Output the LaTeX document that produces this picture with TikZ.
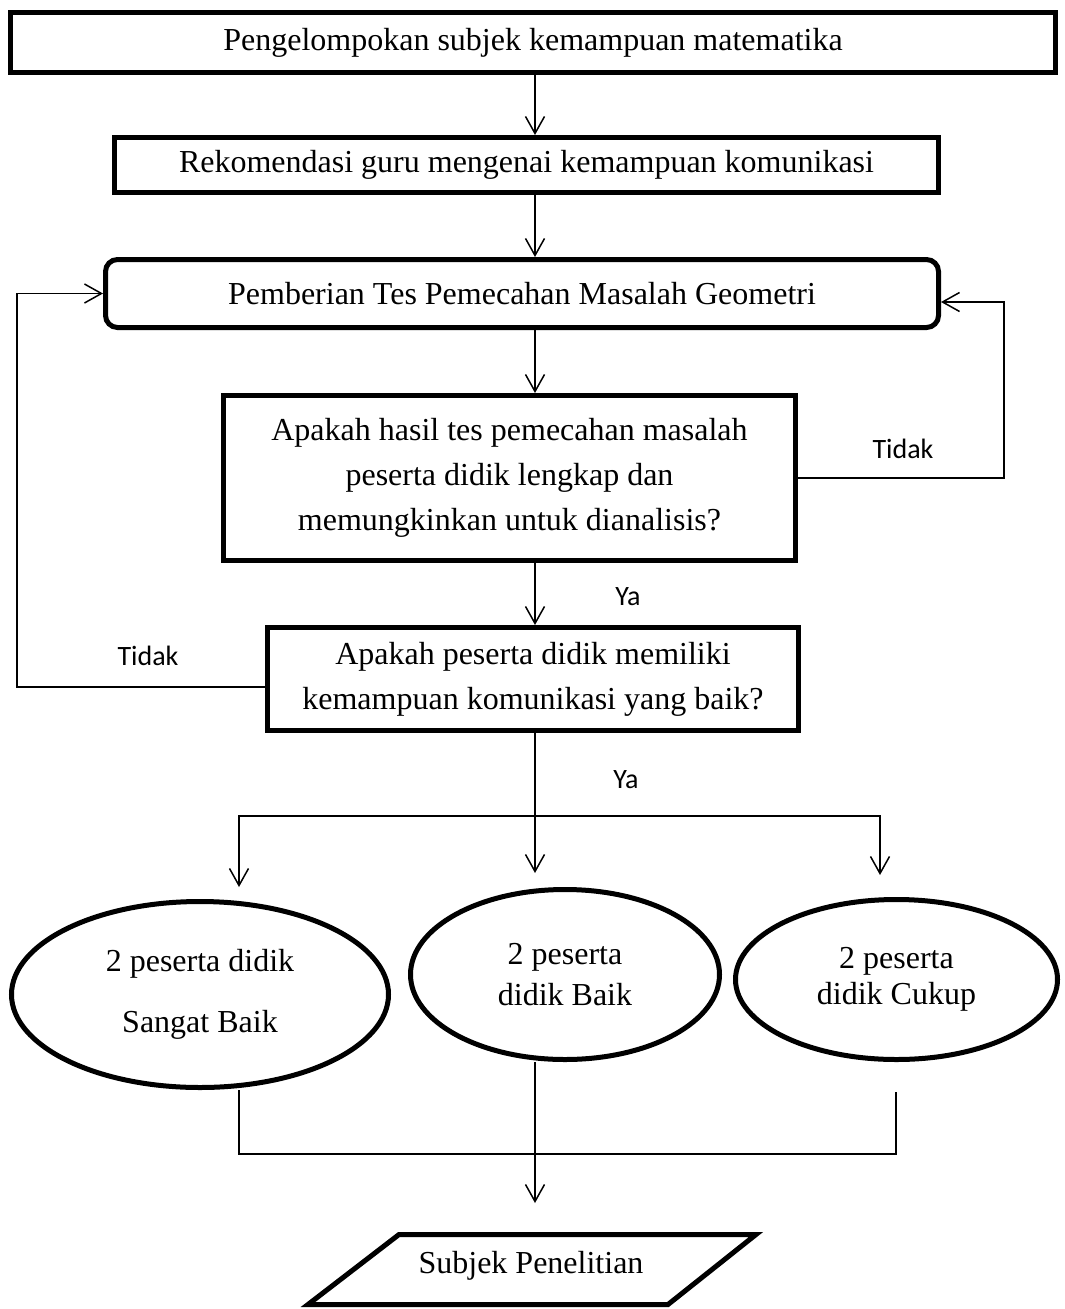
\documentclass[tikz,border=0pt]{standalone}
\usepackage{fontspec}
\setmainfont{Liberation Serif}
\newfontfamily\labelfont{Carlito}
\usetikzlibrary{arrows.meta,calc,shapes.geometric}

\begin{document}
\begin{tikzpicture}[x=1pt,y=-1pt,
  box/.style={draw,line width=5pt,rectangle,inner sep=0pt,align=center,
    font=\fontsize{32}{45}\selectfont},
  ell/.style={draw,line width=5pt,ellipse,inner sep=0pt,align=center},
  conn/.style={line width=1.5pt},
  arr/.style={conn,-{Straight Barb[length=17pt,width=19pt,line width=1.5pt]}},
  lab/.style={font=\labelfont\fontsize{28}{30}\selectfont},
]
\useasboundingbox (0,0) rectangle (1065,1309);

% main column of steps
\node[box,minimum width=1045pt,minimum height=60pt] (b1) at (533,42.5)
  {Pengelompokan subjek kemampuan matematika};
\node[box,minimum width=824pt,minimum height=55pt] (b2) at (526.5,165)
  {Rekomendasi guru mengenai kemampuan komunikasi};
\node[box,rounded corners=12pt,minimum width=833pt,minimum height=68pt] (b3) at (522,293.5)
  {Pemberian Tes Pemecahan Masalah Geometri};
\node[box,minimum width=572pt,minimum height=165pt] (b4) at (509.5,478)
  {Apakah hasil tes pemecahan masalah\\peserta didik lengkap dan\\memungkinkan untuk dianalisis?};
\node[box,minimum width=531pt,minimum height=103pt] (b5) at (533,679)
  {Apakah peserta didik memiliki\\kemampuan komunikasi yang baik?};

% the three groups
\node[ell,minimum width=377pt,minimum height=186pt,font=\fontsize{32}{61}\selectfont] (e1) at (200,994.5)
  {2 peserta didik\\Sangat Baik};
\node[ell,minimum width=309pt,minimum height=170pt,font=\fontsize{32}{41}\selectfont] (e2) at (565,974.5)
  {2 peserta\\didik Baik};
\node[ell,minimum width=322pt,minimum height=160pt,font=\fontsize{32}{36}\selectfont] (e3) at (896.5,979.5)
  {2 peserta\\didik Cukup};

% output
\node[font=\fontsize{32}{40}\selectfont] (out) at (531,1266) {Subjek Penelitian};
\draw[line width=5pt,line join=miter] (399,1234.5) -- (756,1234.5) -- (668,1304.5) -- (308,1304.5) -- cycle;

% helper coordinates
\coordinate (spine) at (535,0);
\coordinate (rx) at (1004,0);
\coordinate (lx) at (17,0);
\coordinate (lout) at ($(b5.west)+(0,8)$);
\coordinate (rin) at ($(b3.east)+(0,8.5)$);
\coordinate (split) at (535,816);
\coordinate (t1) at (239,887);
\coordinate (t3) at (880,875);
\coordinate (c1) at (239,0);
\coordinate (c3) at (896,0);
\coordinate (join) at (535,1154);
\coordinate (pin) at (535,1203);

% straight flow
\draw[arr] (b1.south -| spine) -- (b2.north -| spine);
\draw[arr] (b2.south -| spine) -- (b3.north -| spine);
\draw[arr] (b3.south -| spine) -- (b4.north -| spine);
\draw[arr] (b4.south -| spine) -- (b5.north -| spine);
\node[lab] (ya1) at (628,597) {Ya};

% feedback loops
\draw[arr] (b4.east) -- (b4.east -| rx) |- (rin);
\node[lab] (tidak1) at (903,449) {Tidak};
\draw[arr] (lout) -- (lout -| lx) |- (b3.west);
\node[lab] (tidak2) at (148,656) {Tidak};

% branching to the groups
\draw[arr,shorten >=14pt] (b5.south -| spine) -- (e2.north -| spine);
\node[lab] (ya2) at (626,780) {Ya};
\draw[arr] (split) -| (t1);
\draw[arr] (split) -| (t3);

% merging into the result
\draw[conn] (e1.south -| c1) |- (join);
\draw[conn,shorten <=30pt] (e3.south -| c3) |- (join);
\draw[arr] (e2.south -| spine) -- (pin);
\end{tikzpicture}
\end{document}
